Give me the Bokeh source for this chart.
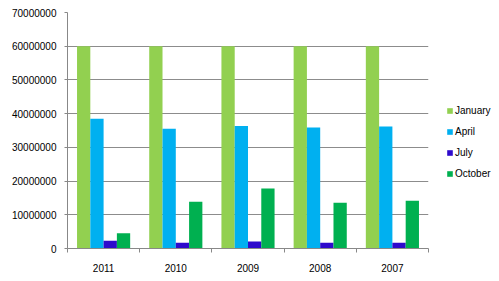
import numpy as np
from bokeh.plotting import figure
from bokeh.models import (ColumnDataSource, FixedTicker, Legend, LegendItem,
                          Range1d, BasicTickFormatter)
from bokeh.embed import file_html
from bokeh.resources import INLINE

years = ["2011", "2010", "2009", "2008", "2007"]
series = ["January", "April", "July", "October"]
january = [60000000, 60000000, 60000000, 60000000, 60000000]
april = [38500000, 35500000, 36300000, 35900000, 36200000]
july = [2300000, 1700000, 2100000, 1700000, 1700000]
october = [4500000, 13900000, 17800000, 13600000, 14200000]
colors = ["#92D050", "#00B0F0", "#2E0ACC", "#00B050"]
y_ticks = [0, 10000000, 20000000, 30000000, 40000000, 50000000, 60000000, 70000000]

FONT = "Liberation Sans"

p = figure(frame_width=361, frame_height=236, output_backend="svg", toolbar_location=None,
           x_range=Range1d(0, len(years)), y_range=Range1d(0, 70000000),
           min_border_left=67, min_border_right=71, min_border_top=12,
           min_border_bottom=33)
p.outline_line_color = None
p.background_fill_color = "white"
p.border_fill_color = "white"

centers = np.arange(len(years)) + 0.5
bar_w = 0.184
offsets = [-1.5 * bar_w, -0.5 * bar_w, 0.5 * bar_w, 1.5 * bar_w]
items = []
for name, vals, col, off in zip(series, [january, april, july, october], colors, offsets):
    src = ColumnDataSource(dict(x=centers + off, top=vals))
    r = p.vbar(x="x", top="top", width=bar_w, bottom=0, source=src,
               fill_color=col, line_color=None)
    items.append(LegendItem(label=name, renderers=[r]))

# x axis
p.xaxis.ticker = FixedTicker(ticks=list(centers), minor_ticks=list(range(len(years) + 1)))
p.xaxis.major_label_overrides = {float(c): y for c, y in zip(centers, years)}
p.xaxis.major_tick_line_color = None
p.xaxis.minor_tick_in = 0
p.xaxis.minor_tick_out = 4
p.xaxis.minor_tick_line_color = "#888888"
p.xaxis.axis_line_color = "#888888"
p.xaxis.major_label_standoff = 9
p.xgrid.grid_line_color = None

# y axis
p.yaxis.ticker = FixedTicker(ticks=y_ticks)
p.yaxis.formatter = BasicTickFormatter(use_scientific=False)
p.yaxis.major_tick_in = 0
p.yaxis.major_tick_out = 3
p.yaxis.major_tick_line_color = "#888888"
p.yaxis.minor_tick_line_color = None
p.yaxis.axis_line_color = "#888888"
p.yaxis.major_label_standoff = 8
p.ygrid.grid_line_color = "#8C8C8C"
p.ygrid.ticker = FixedTicker(ticks=y_ticks)

for ax in (p.xaxis, p.yaxis):
    ax.major_label_text_font = FONT
    ax.major_label_text_font_size = "10px"
    ax.major_label_text_color = "#000000"

legend = Legend(items=items, location=(18, 68))
legend.glyph_width = 7
legend.glyph_height = 7
legend.label_height = 13
legend.label_standoff = 2
legend.spacing = 8
legend.padding = 0
legend.margin = 0
legend.border_line_color = None
legend.background_fill_alpha = 0
legend.label_text_font = FONT
legend.label_text_font_size = "10px"
legend.label_text_color = "#000000"
p.add_layout(legend, "right")

open("out.html", "w").write(file_html(p, INLINE))
